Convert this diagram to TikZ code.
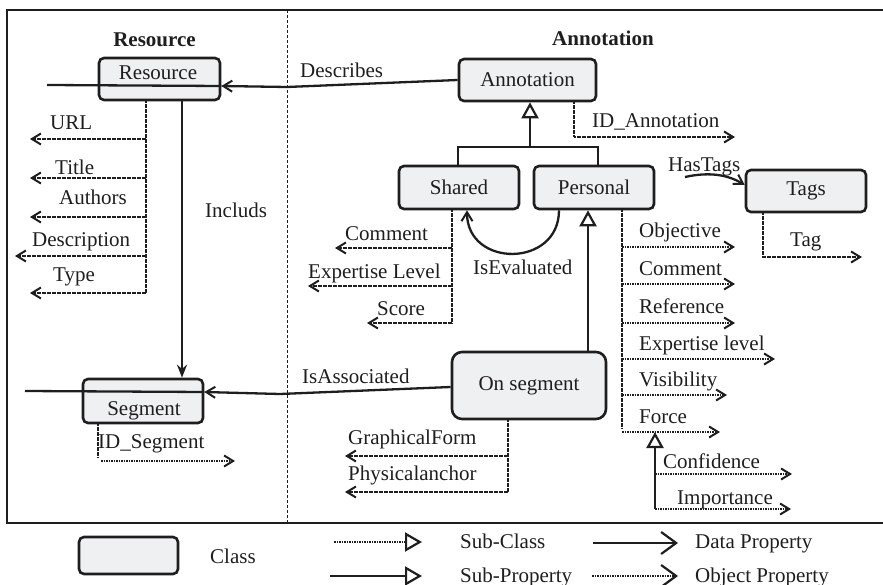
\documentclass[tikz,border=0pt]{standalone}
\usepackage{fontspec}
\setmainfont{Liberation Serif}
\usetikzlibrary{arrows.meta}
\definecolor{boxfill}{HTML}{EFF0F2}
\definecolor{ink}{HTML}{1E1E1E}
\begin{document}
\begin{tikzpicture}[x=1pt,y=-1pt,
  every node/.style={font=\fontsize{21}{24}\selectfont, text=ink},
  lbl/.style={inner sep=0pt, anchor=base west},
  clbl/.style={inner sep=0pt, anchor=base},
  titlelbl/.style={inner sep=0pt, anchor=base, font=\bfseries\fontsize{21}{24}\selectfont},
  classbox/.style={draw=ink, fill=boxfill, line width=2.6pt, rounded corners=5pt, inner sep=0pt},
  solidln/.style={draw=ink, line width=2.3pt},
  dotln/.style={draw=ink, line width=2.3pt, dash pattern=on 1.8pt off 0.7pt},
  barb/.style={-{Straight Barb[length=9pt,width=11pt,line width=2pt]}},
  tri/.style={-{Triangle[length=16pt,width=17pt,line width=2.2pt,fill=white]}},
  bigtri/.style={-{Triangle[length=17pt,width=19pt,line width=2.2pt,fill=white]}},
  bigbarb/.style={-{Straight Barb[length=15pt,width=22pt,line width=2.2pt]}},
]
\useasboundingbox (0,0) rectangle (883,585);

% frame and divider
\draw[ink, line width=2.6pt] (884,10) -- (7,10) -- (7,523) -- (884,523);
\draw[ink, line width=0.9pt, dash pattern=on 3pt off 2pt] (287,10) -- (287,523);

% titles
\node[titlelbl] (tres) at (154.5,47) {Resource};
\node[titlelbl] (tann) at (603,46) {Annotation};

% class boxes
\node[classbox, minimum width=121pt, minimum height=42pt] (resource) at (159.5,79) {};
\node[clbl] (resourcet) at (158,80) {Resource};
\node[classbox, minimum width=137pt, minimum height=42pt] (annotation) at (527.5,80) {Annotation};
\node[classbox, minimum width=120pt, minimum height=43pt] (shared) at (459,187.5) {Shared};
\node[classbox, minimum width=120pt, minimum height=43pt] (personal) at (594,187.5) {Personal};
\node[classbox, minimum width=120pt, minimum height=42pt] (tags) at (806,191) {Tags};
\node[classbox, rounded corners=10pt, minimum width=154pt, minimum height=67pt] (onseg) at (529,385.5) {On segment};
\node[classbox, minimum width=120pt, minimum height=44pt] (segment) at (143,401) {};
\node[clbl] (segmentt) at (144,415) {Segment};

% Describes
\coordinate (descM) at (287,87);
\coordinate (descL) at (47,85);
\draw[solidln, barb] (annotation.west) -- (descM) -- (resource.east |- 0,86);
\draw[solidln] (resource.east |- 0,86) -- (descL);
\node[lbl] (ldesc) at (300,78) {Describes};

% Includs
\coordinate (incx) at (182,0);
\draw[solidln, -{Stealth[length=13pt,width=10pt]}] (resource.south -| incx) -- (segment.north -| incx);
\node[lbl] (lincl) at (205,218) {Includs};

% Resource properties
\coordinate (rsp) at (146,0);
\draw[dotln] (resource.south -| rsp) -- (146,293);
\draw[dotln, barb] (146,139) -- (30,139);
\draw[dotln, barb] (146,178) -- (30,178);
\draw[dotln, barb] (146,217) -- (30,217);
\draw[dotln, barb] (146,256) -- (15,256);
\draw[dotln, barb] (146,293) -- (30,293);
\node[lbl] (lurl) at (50,130) {URL};
\node[lbl] (ltitle) at (55,175) {Title};
\node[lbl] (lauth) at (59,205) {Authors};
\node[lbl] (ldescr) at (32,247) {Description};
\node[lbl] (ltype) at (53,282) {Type};

% Annotation ID
\draw[dotln, barb] (annotation.south -| 574,0) -- (574,137) -- (735,137);
\node[lbl] (lida) at (592,128) {ID\_Annotation};

% Annotation subclasses
\draw[solidln, tri] (530,147) -- (annotation.south -| 530,0);
\draw[solidln] (shared.north -| 458,0) -- (458,147) -- (598,147) -- (personal.north -| 598,0);

% Shared properties
\draw[dotln] (shared.south -| 452,0) -- (452,323);
\draw[dotln, barb] (452,248) -- (335,248);
\draw[dotln, barb] (452,286) -- (308,286);
\draw[dotln, barb] (452,323) -- (367,323);
\node[lbl] (lscom) at (345,241) {Comment};
\node[lbl] (lsexp) at (308,279) {Expertise Level};
\node[lbl] (lscore) at (377,315) {Score};

% IsEvaluated
\draw[solidln, barb] (personal.south -| 559,0) .. controls (559,268) and (467,268) .. (shared.south -| 467,0);
\node[lbl] (leval) at (473,275) {IsEvaluated};

% Personal properties
\draw[dotln] (personal.south -| 622,0) -- (622,428);
\draw[dotln, barb] (622,247) -- (735,247);
\draw[dotln, barb] (622,284) -- (735,284);
\draw[dotln, barb] (622,323) -- (735,323);
\draw[dotln, barb] (622,359) -- (775,359);
\draw[dotln, barb] (622,395) -- (727,395);
\draw[dotln, barb] (622,432) -- (720,432);
\node[lbl] (lobj) at (639,238) {Objective};
\node[lbl] (lpcom) at (639,276) {Comment};
\node[lbl] (lref) at (639,313) {Reference};
\node[lbl] (lpexp) at (639,350) {Expertise level};
\node[lbl] (lvis) at (639,386) {Visibility};
\node[lbl] (lforce) at (639,423) {Force};

% Force sub-properties
\draw[solidln, tri] (655,509) -- (655,432);
\draw[dotln, barb] (655,474) -- (792,474);
\draw[dotln, barb] (655,509) -- (791,509);
\node[lbl] (lconf) at (663,468) {Confidence};
\node[lbl] (limp) at (677,504) {Importance};

% Personal -> On segment
\draw[solidln, tri] (onseg.north -| 588,0) -- (personal.south -| 588,0);

% HasTags
\coordinate (hts) at (685,177);
\draw[solidln, barb] (hts) .. controls (712,171) and (730,176) .. ([yshift=6pt]tags.west);
\node[lbl] (lhas) at (668,172) {HasTags};
\draw[dotln, barb] (tags.south -| 763,0) -- (763,257) -- (862,257);
\node[lbl] (ltag) at (790,247) {Tag};

% IsAssociated
\coordinate (assM) at (280,394);
\coordinate (assL) at (25,391);
\draw[solidln, barb] (onseg.west |- 0,387) -- (assM) -- (segment.east |- 0,392);
\draw[solidln] (segment.east |- 0,392) -- (assL);
\node[lbl] (lass) at (302,383) {IsAssociated};

% On segment properties
\draw[dotln] (onseg.south -| 508,0) -- (508,492);
\draw[dotln, barb] (508,456) -- (345,456);
\draw[dotln, barb] (508,492) -- (345,492);
\node[lbl] (lgraph) at (348,444) {GraphicalForm};
\node[lbl] (lphys) at (348,480) {Physicalanchor};

% Segment ID
\draw[dotln] (segment.south -| 98,0) -- (98,458);
\draw[dotln, barb] (101,461) -- (235,461);
\node[lbl] (lids) at (98,448) {ID\_Segment};

% Legend
\node[classbox, minimum width=99pt, minimum height=37pt] (legclass) at (128.5,555.5) {};
\node[lbl] (lclass) at (210,563) {Class};
\draw[dotln, bigtri] (334,542) -- (422,542);
\node[lbl] (lsubc) at (460,548) {Sub-Class};
\draw[solidln, bigtri] (330,576) -- (422,576);
\node[lbl] (lsubp) at (460,582) {Sub-Property};
\draw[solidln, bigbarb] (593,543) -- (678,543);
\node[lbl] (ldata) at (695,548) {Data Property};
\draw[dotln, bigbarb] (592,576) -- (678,576);
\node[lbl] (lobjp) at (695,582) {Object Property};
\end{tikzpicture}
\end{document}
